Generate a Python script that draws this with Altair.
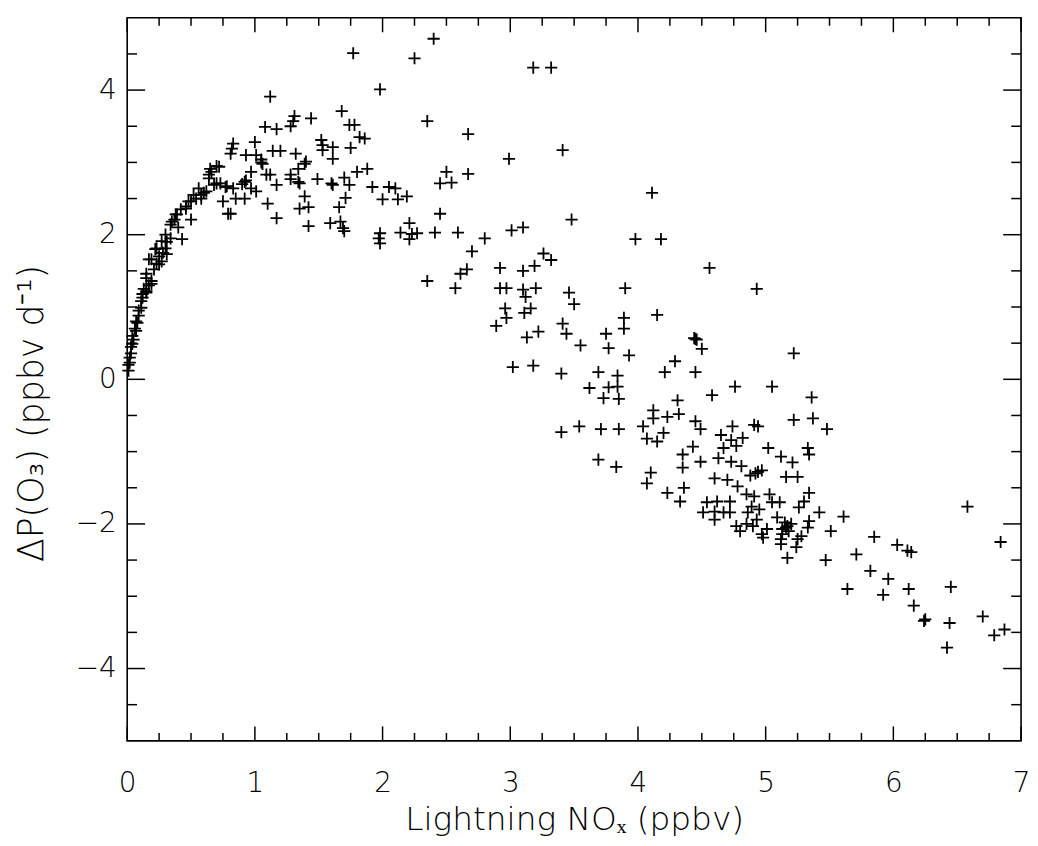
import altair as alt
import pandas as pd

# ---- data (Lightning NOx [ppbv], dP(O3) [ppbv/d]) ----
nox = [
 0.01,0.01,0.02,0.02,0.03,0.03,0.04,0.04,0.05,0.06,0.07,0.07,0.08,0.09,0.09,0.11,0.11,0.12,0.12,0.13,
 0.15,0.15,0.15,0.15,0.17,0.17,0.19,0.19,0.19,0.21,0.22,0.23,0.23,0.25,0.25,0.27,0.27,0.28,0.30,0.30,
 0.31,0.31,0.34,0.34,0.35,0.37,0.38,0.39,0.40,0.42,0.43,0.46,0.46,0.48,0.50,0.50,0.52,0.54,0.56,0.58,
 0.58,0.60,0.62,0.64,0.64,0.65,0.66,0.68,0.70,0.70,0.72,0.73,0.75,0.77,0.78,0.79,0.81,0.81,0.82,0.83,
 0.83,0.85,0.92,0.93,0.90,0.92,0.93,0.97,0.97,1.00,
 1.01,1.01,1.05,1.05,1.06,1.08,1.09,1.10,1.12,1.12,1.14,1.17,1.17,1.17,1.20,1.28,1.28,1.28,1.30,1.31,
 1.32,1.34,1.34,1.35,1.35,1.39,1.39,1.40,1.42,1.42,1.44,1.49,1.52,1.53,1.53,1.60,1.61,1.61,1.61,1.59,
 1.66,1.67,1.68,1.69,1.70,1.70,1.71,1.74,1.74,1.75,1.77,1.78,1.80,1.82,1.86,1.88,1.92,1.97,1.98,1.98,
 1.98,2.00,2.05,2.10,2.12,2.14,2.19,2.21,2.21,2.23,2.25,2.27,2.35,2.35,2.40,2.41,2.45,2.45,2.50,2.54,
 2.67,2.67,2.99,3.18,3.32,3.41,
 2.59,2.80,2.70,3.01,3.10,3.48,3.98,4.18,4.11,2.66,2.61,2.57,2.92,3.10,3.19,3.26,3.32,2.92,2.97,3.10,
 3.20,3.12,3.46,3.50,3.90,2.96,3.11,3.16,2.97,2.89,3.89,3.89,3.13,3.22,3.41,3.44,3.55,3.75,3.77,3.93,
 3.02,3.18,3.40,3.69,3.84,3.62,3.77,3.84,3.73,3.85,3.40,3.54,3.71,3.85,3.69,3.83,4.15,4.56,4.93,
 4.45,4.44,4.46,4.50,5.22,4.29,4.21,4.45,4.58,4.76,5.05,5.36,4.31,4.12,4.12,4.23,4.32,4.04,4.07,4.15,
 4.20,4.45,4.49,5.22,5.37,5.48,4.91,4.94,4.74,4.65,4.73,4.82,4.77,4.67,4.43,4.49,4.35,4.35,4.63,4.73,
 4.81,5.02,5.12,5.21,5.33,5.34,4.97,4.88,4.94,4.92,5.16,5.25,4.10,4.07,4.60,4.70,4.78,4.36,4.23,4.33,
 4.85,4.91,5.03,5.11,5.05,5.34,5.30,5.26,4.54,4.51,4.62,4.72,4.60,4.60,4.67,4.72,4.86,4.89,4.93,4.95,
 4.77,4.80,4.85,4.90,4.97,5.01,4.98,5.09,5.15,5.17,5.13,5.12,5.13,5.12,5.20,5.25,5.28,5.24,5.34,5.33,
 5.42,5.51,5.61,5.17,5.47,5.16,5.18,
 5.85,5.71,5.82,5.64,6.03,6.11,6.14,5.96,5.92,6.12,6.16,6.24,6.25,6.45,6.44,6.42,6.58,6.84,6.70,6.79,
 6.87,
]
dpo3 = [
 0.12,0.20,0.23,0.30,0.36,0.45,0.49,0.60,0.55,0.70,0.67,0.80,0.78,0.88,0.95,0.99,1.08,1.13,1.18,1.25,
 1.20,1.22,1.40,1.46,1.30,1.66,1.32,1.36,1.66,1.52,1.80,1.81,1.60,1.59,1.70,1.63,1.91,1.75,1.81,2.00,
 1.73,1.90,2.14,1.95,2.18,2.21,2.28,2.28,2.10,2.35,1.94,2.39,2.36,2.46,2.46,2.21,2.55,2.50,2.64,2.55,
 2.50,2.58,2.60,2.83,2.78,2.91,2.87,2.69,2.95,2.71,2.94,2.71,2.46,2.66,2.67,2.29,2.29,3.12,3.19,3.26,
 2.64,2.50,2.73,2.75,2.70,2.50,3.10,2.64,2.87,3.28,
 3.10,2.60,3.04,3.00,2.98,3.49,2.83,2.43,3.91,2.83,3.16,3.46,2.69,2.23,3.16,3.50,2.77,2.83,3.57,3.64,
 3.12,2.91,2.73,2.71,2.36,2.98,2.53,3.01,2.38,2.12,3.61,2.77,3.31,3.24,3.17,2.71,3.21,3.05,2.69,2.16,
 2.38,2.18,3.71,2.09,2.79,2.05,2.51,3.52,2.69,3.20,4.51,3.52,2.87,3.35,3.33,2.91,2.66,1.95,4.01,2.02,
 1.88,2.49,2.66,2.64,2.49,2.03,2.53,2.16,1.94,2.01,4.44,2.02,3.57,1.36,4.71,2.03,2.29,2.71,2.87,2.72,
 2.84,3.39,3.05,4.31,4.31,3.17,
 2.03,1.95,1.77,2.06,2.10,2.21,1.94,1.94,2.58,1.52,1.46,1.26,1.54,1.50,1.57,1.74,1.65,1.26,1.26,1.24,
 1.26,1.14,1.20,1.04,1.26,0.98,0.92,0.98,0.85,0.74,0.85,0.70,0.58,0.66,0.77,0.63,0.47,0.63,0.43,0.33,
 0.17,0.19,0.08,0.10,0.05,-0.12,-0.11,-0.10,-0.26,-0.27,-0.73,-0.65,-0.69,-0.69,-1.11,-1.21,0.89,1.54,1.25,
 0.56,0.57,0.55,0.42,0.36,0.25,0.10,0.10,-0.22,-0.10,-0.10,-0.25,-0.29,-0.43,-0.54,-0.52,-0.48,-0.65,-0.82,-0.86,
 -0.74,-0.58,-0.69,-0.56,-0.54,-0.69,-0.63,-0.65,-0.65,-0.77,-0.84,-0.81,-0.92,-0.95,-0.93,-1.14,-1.04,-1.22,-1.09,-1.14,
 -1.20,-0.95,-1.07,-1.15,-0.95,-1.04,-1.26,-1.33,-1.28,-1.30,-1.35,-1.35,-1.29,-1.44,-1.37,-1.39,-1.48,-1.50,-1.57,-1.69,
 -1.59,-1.62,-1.59,-1.70,-1.70,-1.57,-1.69,-1.77,-1.70,-1.84,-1.69,-1.69,-1.83,-1.94,-1.84,-1.84,-1.84,-1.76,-1.94,-1.80,
 -2.03,-2.10,-2.00,-2.03,-2.14,-2.07,-2.19,-1.91,-1.98,-2.03,-2.07,-2.21,-2.14,-2.28,-2.00,-2.21,-2.17,-2.32,-1.96,-2.05,
 -1.84,-2.10,-1.90,-2.47,-2.50,-2.05,-2.10,
 -2.18,-2.42,-2.65,-2.90,-2.29,-2.37,-2.39,-2.76,-2.98,-2.90,-3.13,-3.34,-3.32,-2.87,-3.37,-3.71,-1.76,-2.25,-3.28,-3.54,
 -3.46,
]

x_labels = [0, 1, 2, 3, 4, 5, 6, 7]
y_labels = [-4, -2, 0, 2, 4]
x_minor = [q / 4 for q in range(0, 29) if q % 4 != 0]
y_minor = [h / 2 for h in range(-9, 10) if h % 4 != 0]

X0, X1, Y0, Y1 = 0, 7, -5, 5
W, H = 900, 728
FONT = "DejaVu Sans"

pts = pd.DataFrame({"nox": nox, "dpo3": dpo3})

# inward ticks on all four sides (lengths as fractions of the plot size)
xt_major = 0.02 * (Y1 - Y0)
xt_minor = 0.011 * (Y1 - Y0)
yt_major = 0.02 * (X1 - X0)
yt_minor = 0.011 * (X1 - X0)
rows = []
for t in x_labels + x_minor:
    L = xt_major if t in x_labels else xt_minor
    rows.append({"x": t, "x2": t, "y": Y0, "y2": Y0 + L})
    rows.append({"x": t, "x2": t, "y": Y1, "y2": Y1 - L})
for t in y_labels + y_minor:
    L = yt_major if t in y_labels else yt_minor
    rows.append({"x": X0, "x2": X0 + L, "y": t, "y2": t})
    rows.append({"x": X1, "x2": X1 - L, "y": t, "y2": t})
ticks = pd.DataFrame(rows)

xscale = alt.Scale(domain=[X0, X1], nice=False, zero=False)
yscale = alt.Scale(domain=[Y0, Y1], nice=False, zero=False)

xaxis = alt.Axis(values=x_labels, format="d", title="Lightning NOₓ (ppbv)", grid=False,
                 ticks=False, tickSize=0, domain=False, labelFont=FONT, labelFontSize=28,
                 labelFontWeight=200, labelColor="black", labelPadding=29, titleFont=FONT,
                 titleFontSize=33, titleFontWeight=200, titleColor="black", titlePadding=6,
                 labelFlush=False)
yaxis = alt.Axis(values=y_labels, format="d", title="ΔP(O₃) (ppbv d⁻¹)", grid=False,
                 ticks=False, tickSize=0, domain=False, labelFont=FONT, labelFontSize=28,
                 labelFontWeight=200, labelColor="black", labelPadding=11, titleFont=FONT,
                 titleFontSize=35, titleFontWeight=200, titleColor="black", titleX=-96,
                 titleY=398, titleBaseline="middle", titleAlign="center", labelFlush=False)

points = alt.Chart(pts).mark_point(
    shape="M-1,0L1,0M0,-1L0,1", filled=False, stroke="black", strokeWidth=1.8,
    size=150, opacity=1
).encode(
    x=alt.X("nox:Q", scale=xscale, axis=xaxis),
    y=alt.Y("dpo3:Q", scale=yscale, axis=yaxis),
)

tick_layer = alt.Chart(ticks).mark_rule(color="black", strokeWidth=1.5).encode(
    x=alt.X("x:Q", scale=xscale),
    x2="x2:Q",
    y=alt.Y("y:Q", scale=yscale),
    y2="y2:Q",
)

chart = alt.layer(tick_layer, points).properties(
    width=W, height=H,
    autosize=alt.AutoSizeParams(type="none"),
    padding={"left": 120, "top": 7, "right": 9, "bottom": 100},
    background="white",
).configure_view(stroke="black", strokeWidth=1.6)

chart.save("out.html", embed_options={"renderer": "svg", "actions": False})
